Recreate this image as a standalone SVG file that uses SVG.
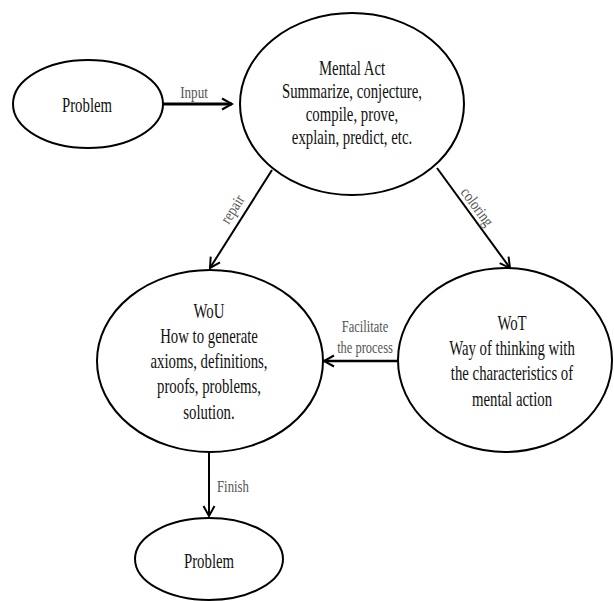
<svg xmlns="http://www.w3.org/2000/svg" width="614" height="601" viewBox="0 0 614 601">
<style>
.node ellipse{fill:#fff;stroke:#000;stroke-width:2}
.nt{font-family:"Liberation Serif","Times New Roman",serif;font-size:20px;fill:#111;text-anchor:middle}
.lb{font-family:"Liberation Serif","Times New Roman",serif;font-size:16px;fill:#555}
.conn line{stroke:#000;stroke-width:2;fill:none}
</style>
<defs>
<marker id="arr" markerUnits="userSpaceOnUse" markerWidth="14" markerHeight="14" viewBox="0 0 14 14" refX="12" refY="7" orient="auto">
<path d="M2,1.5 L12,7 L2,12.5" fill="none" stroke="#000" stroke-width="2"/>
</marker>
</defs>
<rect width="614" height="601" fill="#fff"/>
<g id="connectors" class="conn">
<line x1="163" y1="104" x2="232" y2="104" style="stroke-width:3" marker-end="url(#arr)"/>
<line x1="272" y1="170" x2="210" y2="268" marker-end="url(#arr)"/>
<line x1="437" y1="168" x2="510" y2="268" marker-end="url(#arr)"/>
<line x1="398" y1="361" x2="324" y2="361" style="stroke-width:2.5" marker-end="url(#arr)"/>
<line x1="209" y1="452" x2="209" y2="516" marker-end="url(#arr)"/>
<g class="lb">
<text transform="translate(194,98) scale(0.82,1)" text-anchor="middle">Input</text>
<text transform="translate(237,212) rotate(-57.7) scale(0.82,1)" text-anchor="middle">repair</text>
<text transform="translate(473,210) rotate(53.9) scale(0.82,1)" text-anchor="middle">coloring</text>
<text transform="translate(365,332) scale(0.78,1)" text-anchor="middle">Facilitate</text>
<text transform="translate(365,353) scale(0.78,1)" text-anchor="middle">the process</text>
<text transform="translate(217,492) scale(0.8,1)">Finish</text>
</g>
</g>
<g id="problem-start" class="node">
<ellipse cx="88" cy="104" rx="75" ry="44"/>
<text class="nt" transform="translate(87,112) scale(0.74,1)">Problem</text>
</g>
<g id="mental-act" class="node">
<ellipse cx="352" cy="104" rx="112" ry="91"/>
<g transform="translate(352,0) scale(0.74,1)">
<text class="nt" x="0" y="75">Mental Act</text>
<text class="nt" x="0" y="98">Summarize, conjecture,</text>
<text class="nt" x="0" y="121">compile, prove,</text>
<text class="nt" x="0" y="144">explain, predict, etc.</text>
</g>
</g>
<g id="wou" class="node">
<ellipse cx="210" cy="361" rx="113" ry="91"/>
<g transform="translate(209,0) scale(0.74,1)">
<text class="nt" x="0" y="318">WoU</text>
<text class="nt" x="0" y="343">How to generate</text>
<text class="nt" x="0" y="368">axioms, definitions,</text>
<text class="nt" x="0" y="393">proofs, problems,</text>
<text class="nt" x="0" y="419">solution.</text>
</g>
</g>
<g id="wot" class="node">
<ellipse cx="505" cy="360" rx="107" ry="92"/>
<g transform="translate(512,0) scale(0.74,1)">
<text class="nt" x="0" y="330">WoT</text>
<text class="nt" x="0" y="355">Way of thinking with</text>
<text class="nt" x="0" y="380">the characteristics of</text>
<text class="nt" x="0" y="406">mental action</text>
</g>
</g>
<g id="problem-end" class="node">
<ellipse cx="209" cy="559" rx="74" ry="41"/>
<text class="nt" transform="translate(209,568) scale(0.74,1)">Problem</text>
</g>
</svg>
